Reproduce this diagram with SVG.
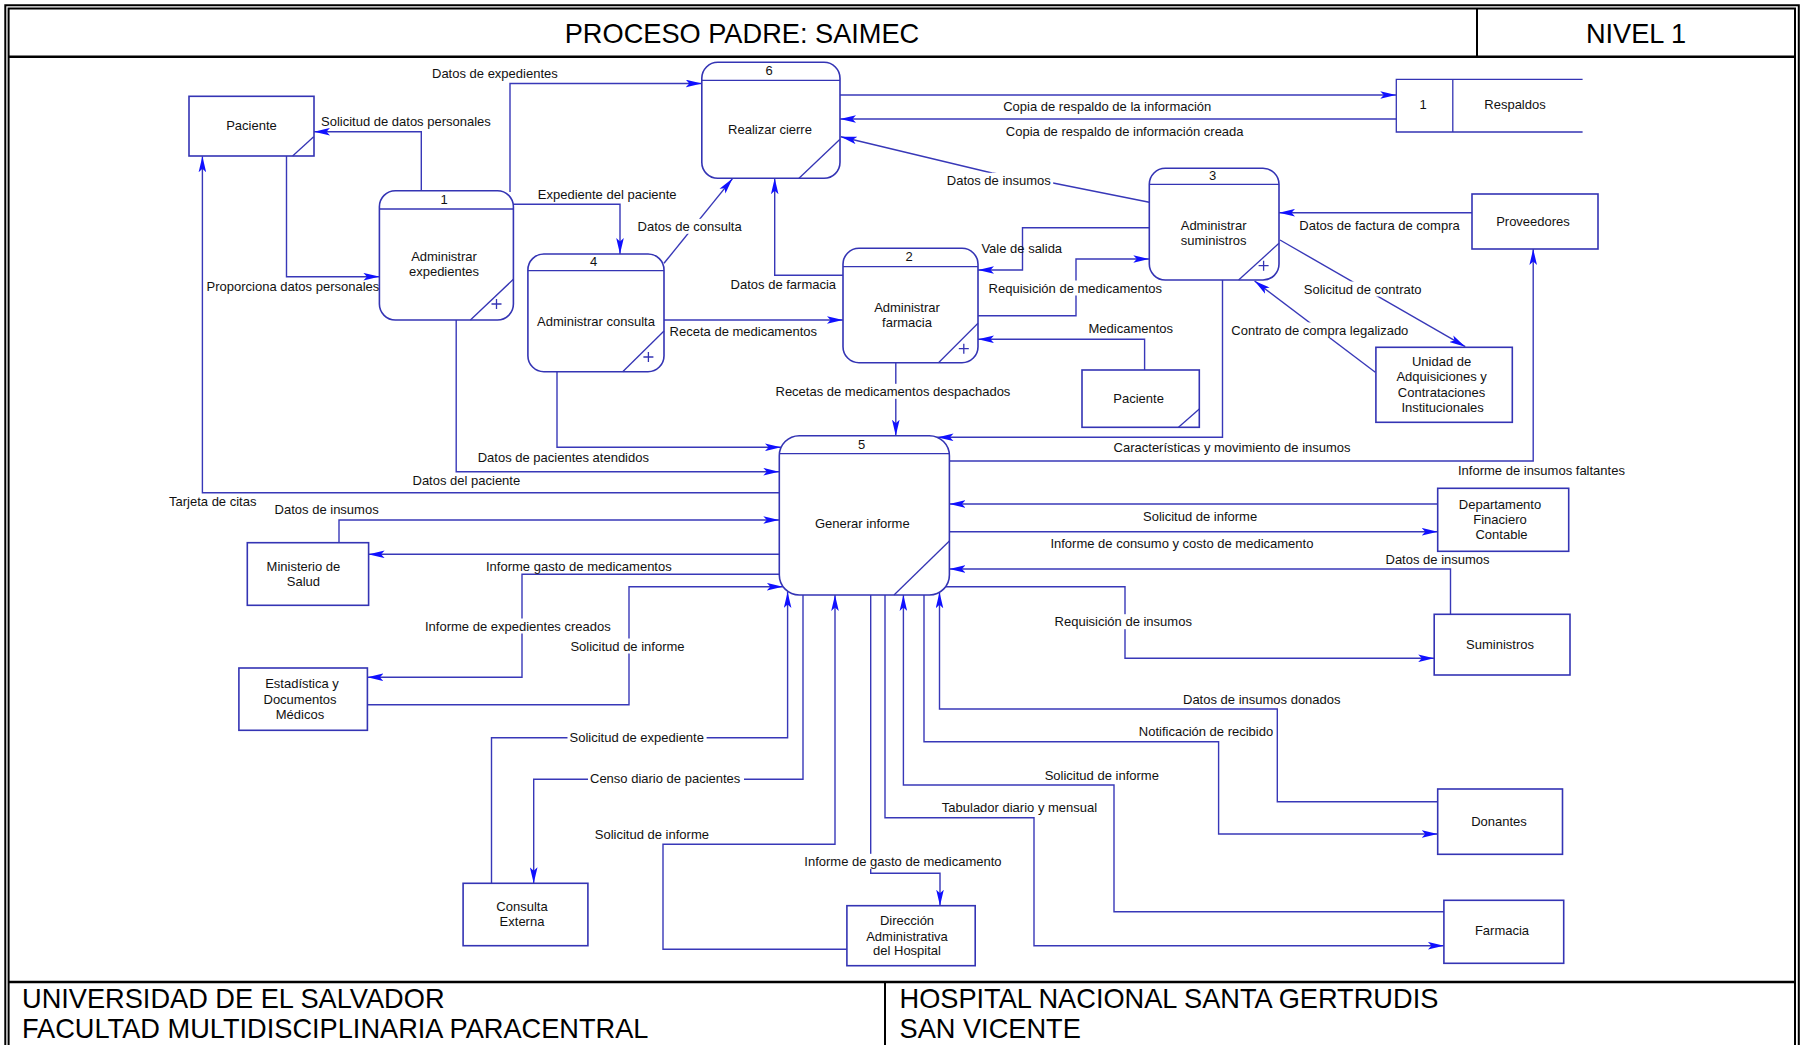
<svg xmlns="http://www.w3.org/2000/svg" width="1806" height="1045" viewBox="0 0 1806 1045">
  <style>
    .t { font-family: "Liberation Sans", Arial, sans-serif; font-size: 13px; fill: #111; }
    .c { text-anchor: middle; }
    .big { font-family: "Liberation Sans", Arial, sans-serif; font-size: 27.2px; fill: #000; }
    .nd { fill: #fff; stroke: #3434b4; stroke-width: 1.6; }
    .sl { fill: none; stroke: #3434b4; stroke-width: 1.3; }
    .ln { fill: none; stroke: #3838b8; stroke-width: 1.4; }
    .ar { marker-end: url(#arr); }
    .bg { fill: #fff; }
    .fr { fill: none; stroke: #000; }
  </style>
  <defs>
    <marker id="arr" viewBox="0 0 16 8" refX="16" refY="4" markerWidth="16" markerHeight="8" markerUnits="userSpaceOnUse" orient="auto">
      <path d="M0,0.2 L16,4 L0,7.8 L3.5,4 Z" fill="#1010ff"/>
    </marker>
  </defs>

  <rect width="1806" height="1045" fill="#fff"/>

  <!-- sheet frame, title block and footer -->
  <g id="frame">
    <path class="fr" stroke-width="2" d="M5.3,1050 V5.3 H1798.8 V1050"/>
    <path class="fr" stroke-width="2" d="M8.6,1050 V8.6 H1795 V1050"/>
    <line class="fr" stroke-width="2.6" x1="8.6" y1="56.7" x2="1795" y2="56.7"/>
    <line class="fr" stroke-width="2" x1="1477" y1="8.6" x2="1477" y2="56.7"/>
    <line class="fr" stroke-width="2.6" x1="8.6" y1="982" x2="1795" y2="982"/>
    <line class="fr" stroke-width="2" x1="885" y1="982" x2="885" y2="1050"/>
    <text class="big" x="742" y="42.7" text-anchor="middle">PROCESO PADRE: SAIMEC</text>
    <text class="big" x="1636" y="42.7" text-anchor="middle">NIVEL 1</text>
    <text class="big" x="22" y="1008">UNIVERSIDAD DE EL SALVADOR</text>
    <text class="big" x="22" y="1037.5">FACULTAD MULTIDISCIPLINARIA PARACENTRAL</text>
    <text class="big" x="899.5" y="1008">HOSPITAL NACIONAL SANTA GERTRUDIS</text>
    <text class="big" x="899.5" y="1037.5">SAN VICENTE</text>
  </g>

  <!-- data flows -->
  <g id="connectors">
    <path class="ln ar" d="M510,192 V83.5 H701.8"/>
    <path class="ln ar" d="M421.3,190.7 V131.7 H314"/>
    <path class="ln ar" d="M286.5,156 V276.7 H379.4"/>
    <path class="ln ar" d="M779.3,492.7 H202.4 V156.3"/>
    <path class="ln ar" d="M456.2,320 V471.7 H779.3"/>
    <path class="ln ar" d="M557,371.7 V447.3 H781"/>
    <path class="ln ar" d="M513.4,204.3 H620 V254"/>
    <path class="ln ar" d="M664,263.3 L732.5,178.6"/>
    <path class="ln ar" d="M843,275.3 H774.7 V178.3"/>
    <path class="ln ar" d="M664,320 H843"/>
    <path class="ln ar" d="M895.8,362.7 V435.7"/>
    <path class="ln ar" d="M840,95 H1396.3"/>
    <path class="ln ar" d="M1396.3,119 H840"/>
    <path class="ln ar" d="M1149.3,202.3 L1053,183 L992,173 L840.8,136.7"/>
    <path class="ln ar" d="M1149.3,227.7 H1022.5 V270 H978"/>
    <path class="ln ar" d="M978,315.7 H1076 V259 H1149.3"/>
    <path class="ln ar" d="M1144.6,370 V339.3 H978"/>
    <path class="ln ar" d="M1222.5,280 V437.3 H937.5"/>
    <path class="ln ar" d="M949.4,461 H1533.2 V249"/>
    <path class="ln ar" d="M1437.7,504 H949.4"/>
    <path class="ln ar" d="M949.4,531.7 H1437.7"/>
    <path class="ln ar" d="M1450.5,614.3 V569 H949.4"/>
    <path class="ln ar" d="M945.6,586.7 H1125 V658.3 H1434.2"/>
    <path class="ln ar" d="M339,542.7 V520 H779.3"/>
    <path class="ln ar" d="M779.3,554.3 H368.6"/>
    <path class="ln ar" d="M779.3,574.3 H522 V677.3 H367.4"/>
    <path class="ln ar" d="M367.4,704.7 H629 V586.7 H782.8"/>
    <path class="ln ar" d="M491.5,883.3 V737.7 H787.6 V592"/>
    <path class="ln ar" d="M803,595 V779.3 H533.7 V883.3"/>
    <path class="ln ar" d="M846.9,949.3 H663 V844.3 H835 V595"/>
    <path class="ln ar" d="M870.7,595 V873.3 H940 V905.7"/>
    <path class="ln ar" d="M885,595 V817.7 H1034 V945.7 H1443.9"/>
    <path class="ln ar" d="M1443.9,911.7 H1114 V785 H903.4 V595"/>
    <path class="ln ar" d="M924,595 V741.7 H1218.6 V834 H1437.7"/>
    <path class="ln ar" d="M1437.7,801.7 H1277.3 V709 H939.5 V592.3"/>
    <path class="ln ar" d="M1280,240 L1465.3,346.7"/>
    <path class="ln ar" d="M1375.3,372.3 L1254.6,281"/>
    <path class="ln ar" d="M1472,212.7 H1279"/>
  </g>

  <!-- flow labels (white boxes where a label sits on its own line) -->
  <g id="flow-labels">
    <rect class="bg" x="635.6" y="218.8" width="109.6" height="15"/>
    <rect class="bg" x="773.5" y="383.8" width="242.1" height="15"/>
    <rect class="bg" x="944.8" y="172.8" width="108.4" height="15"/>
    <rect class="bg" x="986.6" y="280.5" width="176.4" height="15"/>
    <rect class="bg" x="1052.6" y="614.2" width="140.8" height="15"/>
    <rect class="bg" x="423" y="618.5" width="194.2" height="15"/>
    <rect class="bg" x="568.4" y="638.5" width="118.6" height="15"/>
    <rect class="bg" x="567.5" y="729.8" width="139.1" height="15"/>
    <rect class="bg" x="588" y="770.8" width="156" height="15"/>
    <rect class="bg" x="802.3" y="853.8" width="201.7" height="15"/>
    <rect class="bg" x="1301.8" y="281.5" width="123.2" height="15"/>
    <rect class="bg" x="1229.3" y="322.5" width="181.5" height="15"/>

    <text class="t" x="432" y="78">Datos de expedientes</text>
    <text class="t" x="321" y="125.5">Solicitud de datos personales</text>
    <text class="t" x="206.6" y="290.5">Proporciona datos personales</text>
    <text class="t" x="169" y="506">Tarjeta de citas</text>
    <text class="t" x="412.5" y="485">Datos del paciente</text>
    <text class="t" x="477.7" y="462">Datos de pacientes atendidos</text>
    <text class="t" x="537.8" y="199">Expediente del paciente</text>
    <text class="t" x="637.6" y="230.8">Datos de consulta</text>
    <text class="t" x="730.6" y="288.5">Datos de farmacia</text>
    <text class="t" x="669.6" y="335.8">Receta de medicamentos</text>
    <text class="t" x="775.5" y="395.8">Recetas de medicamentos despachados</text>
    <text class="t" x="1003.2" y="111">Copia de respaldo de la información</text>
    <text class="t" x="1005.8" y="136">Copia de respaldo de información creada</text>
    <text class="t" x="946.8" y="184.8">Datos de insumos</text>
    <text class="t" x="981.4" y="252.8">Vale de salida</text>
    <text class="t" x="988.6" y="292.5">Requisición de medicamentos</text>
    <text class="t" x="1088.5" y="332.8">Medicamentos</text>
    <text class="t" x="1113.6" y="452">Características y movimiento de insumos</text>
    <text class="t" x="1458" y="474.5">Informe de insumos faltantes</text>
    <text class="t" x="1143" y="521">Solicitud de informe</text>
    <text class="t" x="1050.4" y="548">Informe de consumo y costo de medicamento</text>
    <text class="t" x="1385.5" y="564">Datos de insumos</text>
    <text class="t" x="1054.6" y="626.2">Requisición de insumos</text>
    <text class="t" x="274.6" y="513.5">Datos de insumos</text>
    <text class="t" x="486" y="570.5">Informe gasto de medicamentos</text>
    <text class="t" x="425" y="630.5">Informe de expedientes creados</text>
    <text class="t" x="570.4" y="650.5">Solicitud de informe</text>
    <text class="t" x="569.5" y="741.8">Solicitud de expediente</text>
    <text class="t" x="590" y="782.8">Censo diario de pacientes</text>
    <text class="t" x="594.8" y="838.5">Solicitud de informe</text>
    <text class="t" x="804.3" y="865.8">Informe de gasto de medicamento</text>
    <text class="t" x="941.8" y="812">Tabulador diario y mensual</text>
    <text class="t" x="1044.7" y="779.5">Solicitud de informe</text>
    <text class="t" x="1138.8" y="735.5">Notificación de recibido</text>
    <text class="t" x="1183" y="703.8">Datos de insumos donados</text>
    <text class="t" x="1303.8" y="293.5">Solicitud de contrato</text>
    <text class="t" x="1231.3" y="334.5">Contrato de compra legalizado</text>
    <text class="t" x="1299.3" y="229.8">Datos de factura de compra</text>
  </g>

  <!-- processes -->
  <g id="p1">
    <rect class="nd" x="379.4" y="190.7" width="134" height="129.3" rx="16" ry="16"/>
    <line class="sl" x1="379.4" y1="209" x2="513.4" y2="209"/>
    <line class="sl" x1="470.4" y1="320" x2="513.4" y2="279.3"/>
    <path class="sl" d="M491.5,304 H501.5 M496.5,299 V309" stroke="#222"/>
    <text class="t c" x="444" y="203.5">1</text>
    <text class="t c" x="444" y="260.5">Administrar</text>
    <text class="t c" x="444" y="275.5">expedientes</text>
  </g>
  <g id="p4">
    <rect class="nd" x="527.9" y="254" width="136.1" height="117.7" rx="16" ry="16"/>
    <line class="sl" x1="527.9" y1="270.7" x2="664" y2="270.7"/>
    <line class="sl" x1="622.7" y1="371.7" x2="664" y2="331"/>
    <path class="sl" d="M643.4,357 H653.4 M648.4,352 V362" stroke="#222"/>
    <text class="t c" x="593.5" y="266">4</text>
    <text class="t c" x="596" y="325.5">Administrar consulta</text>
  </g>
  <g id="p6">
    <rect class="nd" x="701.8" y="62.3" width="138.2" height="116" rx="16" ry="16"/>
    <line class="sl" x1="701.8" y1="80.3" x2="840" y2="80.3"/>
    <line class="sl" x1="799" y1="178.3" x2="840" y2="139.3"/>
    <text class="t c" x="769" y="75">6</text>
    <text class="t c" x="770" y="133.8">Realizar cierre</text>
  </g>
  <g id="p2">
    <rect class="nd" x="843" y="248.3" width="135" height="114.4" rx="16" ry="16"/>
    <line class="sl" x1="843" y1="266.7" x2="978" y2="266.7"/>
    <line class="sl" x1="938.5" y1="362.7" x2="978" y2="323.3"/>
    <path class="sl" d="M958.8,348.7 H968.8 M963.8,343.7 V353.7" stroke="#222"/>
    <text class="t c" x="909" y="261">2</text>
    <text class="t c" x="907" y="311.5">Administrar</text>
    <text class="t c" x="907" y="326.5">farmacia</text>
  </g>
  <g id="p3">
    <rect class="nd" x="1149.3" y="168.3" width="129.7" height="111.7" rx="16" ry="16"/>
    <line class="sl" x1="1149.3" y1="184.3" x2="1279" y2="184.3"/>
    <line class="sl" x1="1238.6" y1="280" x2="1279" y2="243.3"/>
    <path class="sl" d="M1258.6,265.7 H1268.6 M1263.6,260.7 V270.7" stroke="#222"/>
    <text class="t c" x="1212.5" y="180">3</text>
    <text class="t c" x="1213.6" y="229.8">Administrar</text>
    <text class="t c" x="1213.6" y="244.5">suministros</text>
  </g>
  <g id="p5">
    <rect class="nd" x="779.3" y="435.7" width="170.1" height="159.3" rx="20" ry="20"/>
    <line class="sl" x1="779.3" y1="453.7" x2="949.4" y2="453.7"/>
    <line class="sl" x1="894" y1="595" x2="949.4" y2="541"/>
    <text class="t c" x="861.5" y="449">5</text>
    <text class="t c" x="862.3" y="528.2">Generar informe</text>
  </g>

  <!-- data store -->
  <g id="store-respaldos">
    <path class="sl" stroke-width="1.5" d="M1582.6,79.3 H1396.3 V132 H1582.6 M1452.8,79.3 V132"/>
    <text class="t c" x="1423" y="108.8">1</text>
    <text class="t c" x="1515" y="108.8">Respaldos</text>
  </g>

  <!-- external entities -->
  <g id="e-paciente">
    <rect class="nd" x="189" y="96.3" width="125" height="59.7"/>
    <line class="sl" x1="292.6" y1="156" x2="313.7" y2="136.7"/>
    <text class="t c" x="251.5" y="130.2">Paciente</text>
  </g>
  <g id="e-paciente-2">
    <rect class="nd" x="1082" y="370" width="117.3" height="57.3"/>
    <line class="sl" x1="1178.5" y1="427.3" x2="1199.3" y2="409"/>
    <text class="t c" x="1138.6" y="402.8">Paciente</text>
  </g>
  <g id="e-proveedores">
    <rect class="nd" x="1472" y="194" width="126" height="55"/>
    <text class="t c" x="1533" y="225.5">Proveedores</text>
  </g>
  <g id="e-uaci">
    <rect class="nd" x="1375.9" y="347.3" width="136.4" height="75"/>
    <text class="t c" x="1441.6" y="365.5">Unidad de</text>
    <text class="t c" x="1441.6" y="381.2">Adquisiciones y</text>
    <text class="t c" x="1441.6" y="396.8">Contrataciones</text>
    <text class="t c" x="1442.6" y="411.8">Institucionales</text>
  </g>
  <g id="e-financiero">
    <rect class="nd" x="1437.7" y="488.3" width="131" height="63"/>
    <text class="t c" x="1500" y="508.5">Departamento</text>
    <text class="t c" x="1500" y="523.5">Finaciero</text>
    <text class="t c" x="1501.5" y="538.8">Contable</text>
  </g>
  <g id="e-suministros">
    <rect class="nd" x="1434.2" y="614.3" width="135.8" height="60.7"/>
    <text class="t c" x="1500" y="649.2">Suministros</text>
  </g>
  <g id="e-donantes">
    <rect class="nd" x="1437.7" y="789" width="124.8" height="65.3"/>
    <text class="t c" x="1499" y="825.8">Donantes</text>
  </g>
  <g id="e-farmacia">
    <rect class="nd" x="1443.9" y="900.3" width="119.8" height="63"/>
    <text class="t c" x="1502" y="935.2">Farmacia</text>
  </g>
  <g id="e-ministerio">
    <rect class="nd" x="247.3" y="542.7" width="121.3" height="62.6"/>
    <text class="t c" x="303.4" y="570.5">Ministerio de</text>
    <text class="t c" x="303.4" y="586.2">Salud</text>
  </g>
  <g id="e-estadistica">
    <rect class="nd" x="238.9" y="668" width="128.5" height="62.3"/>
    <text class="t c" x="302" y="688.2">Estadística y</text>
    <text class="t c" x="300" y="703.8">Documentos</text>
    <text class="t c" x="300" y="718.5">Médicos</text>
  </g>
  <g id="e-consulta-externa">
    <rect class="nd" x="463.1" y="883.3" width="124.8" height="62.4"/>
    <text class="t c" x="522" y="911.2">Consulta</text>
    <text class="t c" x="522" y="925.5">Externa</text>
  </g>
  <g id="e-direccion">
    <rect class="nd" x="846.9" y="905.7" width="128.3" height="60"/>
    <text class="t c" x="907" y="924.5">Dirección</text>
    <text class="t c" x="907" y="940.5">Administrativa</text>
    <text class="t c" x="907" y="955.2">del Hospital</text>
  </g>
</svg>
